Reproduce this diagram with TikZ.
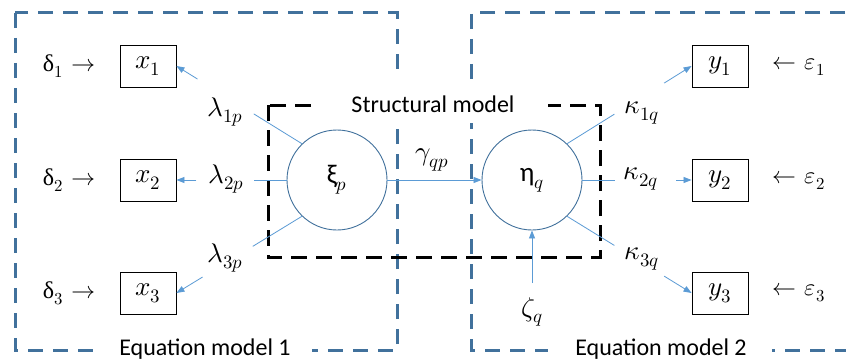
\documentclass[tikz,border=0pt]{standalone}
\usepackage{fontspec}
\usepackage{unicode-math}
\setmainfont{Carlito}
\newfontfamily\grk{Liberation Serif}
\usetikzlibrary{arrows.meta,calc}
\definecolor{eqblue}{RGB}{65,113,156}
\definecolor{arrblue}{RGB}{91,155,213}
\begin{document}
\begin{tikzpicture}[x=1pt,y=-1pt,
 eqbox/.style={draw=eqblue,line width=3pt,dash pattern=on 15pt off 10pt},
 stbox/.style={draw=black,line width=3pt,dash pattern=on 16pt off 9pt},
 var/.style={draw=black,line width=0.9pt,minimum width=56pt,minimum height=42pt,inner sep=0pt,font=\fontsize{27}{30}\selectfont},
 lat/.style={circle,draw=eqblue,line width=0.9pt,minimum size=100pt,inner sep=0pt,font=\fontsize{27}{30}\selectfont},
 lbl/.style={inner sep=0pt,font=\fontsize{27}{30}\selectfont},
 txt/.style={inner sep=0pt,font=\fontsize{24}{28}\selectfont},
 con/.style={draw=arrblue,line width=0.8pt},
 arr/.style={con,-{Triangle[length=8pt,width=6pt]}}
]
\useasboundingbox (0,0) rectangle (846,361);
\clip (0,0) rectangle (846,361);
\fill[white] (0,0) rectangle (846,361);

% equation model boxes
\draw[eqbox] (15,13) rectangle (397,350);
\draw[eqbox] (870,13) -- (471,13) -- (471,350) -- (870,350);
% structural model box
\draw[stbox] (268,105) rectangle (600,257);

% white patches behind the box titles
\fill[white] (318,79) rectangle (548,123);
\fill[white] (100,336) rectangle (312,361);
\fill[white] (548,336) rectangle (772,361);

\node[txt,anchor=base] (sm) at (433,112) {Structural model};
\node[txt,anchor=base] (em1) at (205,355) {Equation model 1};
\node[txt,anchor=base] (em2) at (661,355) {Equation model 2};

% observed variables
\node[var] (x1) at (148,66) {$x_1$};
\node[var] (x2) at (148,180) {$x_2$};
\node[var] (x3) at (148,293) {$x_3$};
\node[var] (y1) at (720,66) {$y_1$};
\node[var] (y2) at (720,180) {$y_2$};
\node[var] (y3) at (720,293) {$y_3$};

% latent variables
\node[lat] (xi) at (337,180) {ξ$_p$};
\node[lat] (eta) at (532,180) {η$_q$};

% error terms
\node[txt] (d1) at (69,66) {{\grk δ}$_1$\hspace{8pt}$\rightarrow$};
\node[txt] (d2) at (69,180) {{\grk δ}$_2$\hspace{8pt}$\rightarrow$};
\node[txt] (d3) at (69,293) {{\grk δ}$_3$\hspace{8pt}$\rightarrow$};
\node[txt] (e1) at (799,66) {$\leftarrow$\hspace{8pt}$\varepsilon_1$};
\node[txt] (e2) at (799,180) {$\leftarrow$\hspace{8pt}$\varepsilon_2$};
\node[txt] (e3) at (799,293) {$\leftarrow$\hspace{8pt}$\varepsilon_3$};

% loadings labels
\node[lbl] (l1) at (225,112) {$\lambda_{1p}$};
\node[lbl] (l2) at (226,179) {$\lambda_{2p}$};
\node[lbl] (l3) at (225,258) {$\lambda_{3p}$};
\node[lbl] (k1) at (642,113) {$\kappa_{1q}$};
\node[lbl] (k2) at (641,179) {$\kappa_{2q}$};
\node[lbl] (k3) at (642,259) {$\kappa_{3q}$};
\node[lbl] (g) at (432,160) {$\gamma_{qp}$};
\node[lbl] (z) at (532,312) {$\zeta_q$};
\coordinate (zs) at (532,283);

% connectors xi -> x
\draw[con] (xi.134) -- ($(xi.134)!0.384!(x1.east)$);
\draw[arr] ($(xi.134)!0.832!(x1.east)$) -- (x1.east);
\draw[con] (xi.west) -- ($(xi.west)!0.30!(x2.east)$);
\draw[arr] ($(xi.west)!0.82!(x2.east)$) -- (x2.east);
\draw[con] (xi.226) -- ($(xi.226)!0.392!(x3.east)$);
\draw[arr] ($(xi.226)!0.792!(x3.east)$) -- (x3.east);

% connectors eta -> y
\draw[con] (eta.46) -- ($(eta.46)!0.38!(y1.west)$);
\draw[arr] ($(eta.46)!0.78!(y1.west)$) -- (y1.west);
\draw[con] (eta.east) -- ($(eta.east)!0.30!(y2.west)$);
\draw[arr] ($(eta.east)!0.86!(y2.west)$) -- (y2.west);
\draw[con] (eta.314) -- ($(eta.314)!0.38!(y3.west)$);
\draw[arr] ($(eta.314)!0.78!(y3.west)$) -- (y3.west);

% structural paths
\draw[arr] (xi.east) -- (eta.west);
\draw[arr] (zs) -- (eta.south);
\end{tikzpicture}
\end{document}
